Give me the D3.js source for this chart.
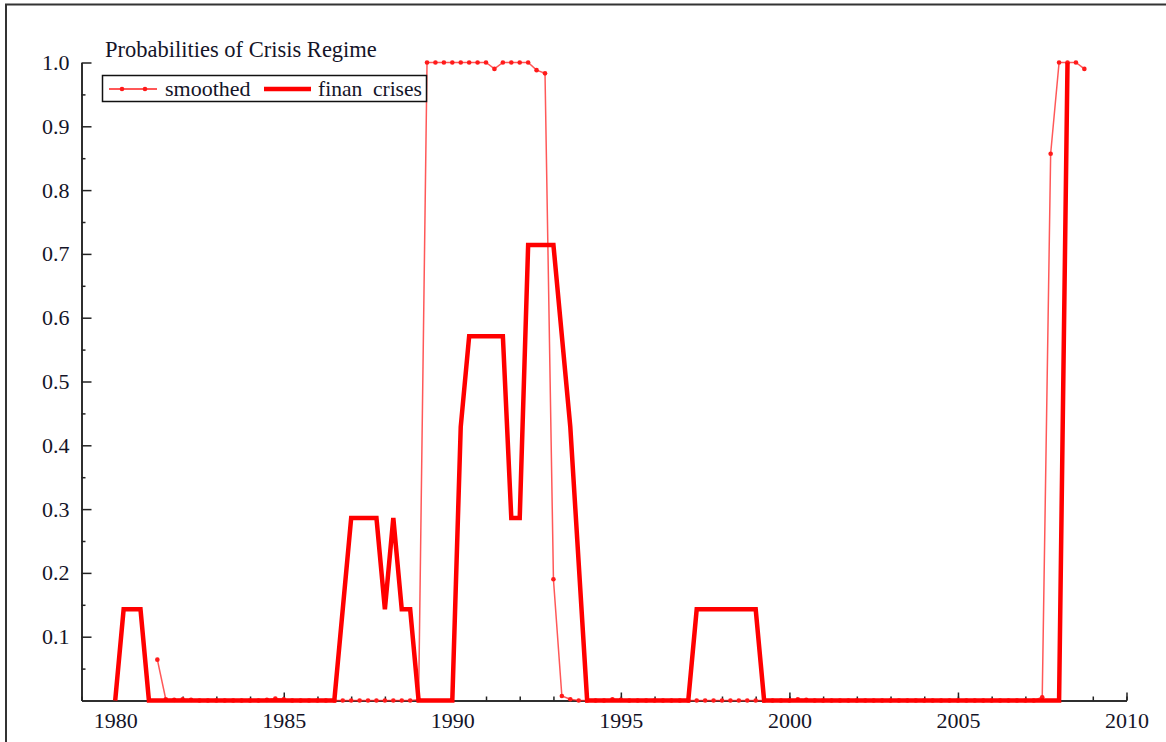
<!DOCTYPE html>
<html lang="en">
<head>
  <meta charset="utf-8">
  <title>Probabilities of Crisis Regime</title>
  <script src="https://cdnjs.cloudflare.com/ajax/libs/d3/7.8.5/d3.min.js"></script>
  <style type="text/css">
	body {
		margin: 0;
		background: #fff;
	}
	svg text {
		font-family: "Liberation Serif", "Times New Roman", serif;
		fill: #141428;
	}
	.axis path, .axis line {
		stroke: #222;
		stroke-width: 1.5;
	}
  </style>
</head>
<body>
<svg id="chart"></svg>
<script>
// smoothed probability, quarterly, first value at 1981.25
var smoothStart = 1981.25;
var smoothed = [
	0.064, 0.002, 0.001,
	0.002, 0.001, 0, 0,              // 1982
	0, 0, 0, 0,                      // 1983
	0, 0, 0.001, 0.003,              // 1984
	0.002, 0, 0, 0,                  // 1985
	0, 0, 0, 0,                      // 1986
	0, 0, 0, 0,                      // 1987
	0, 0, 0, 0,                      // 1988
	0.001, 1, 1, 1,                  // 1989
	1, 1, 1, 1,                      // 1990
	1, 0.99, 1, 1,                   // 1991
	1, 1, 0.988, 0.983,              // 1992
	0.19, 0.007, 0.002, 0,           // 1993
	0, 0, 0, 0.002,                  // 1994
	0.001, 0, 0, 0,                  // 1995
	0, 0, 0, 0,                      // 1996
	0, 0, 0, 0,                      // 1997
	0, 0, 0, 0,                      // 1998
	0, 0, 0, 0,                      // 1999
	0, 0.002, 0.001, 0,              // 2000
	0, 0, 0, 0,                      // 2001
	0, 0, 0, 0,                      // 2002
	0, 0, 0, 0,                      // 2003
	0, 0, 0, 0,                      // 2004
	0, 0, 0, 0,                      // 2005
	0, 0, 0, 0,                      // 2006
	0, 0, 0.005, 0.857,              // 2007
	1, 1, 1, 0.99                    // 2008
];

// share of financial crises
var crisisYears = [1980, 1980.25, 1980.75, 1981, 1986.5, 1987, 1987.75, 1988, 1988.25, 1988.5, 1988.75, 1989,
	1990, 1990.25, 1990.5, 1991.5, 1991.75, 1992, 1992.25, 1993, 1993.5, 1994,
	1997, 1997.25, 1999, 1999.25, 2008, 2008.25];
var crisisValues = [0, 0.143, 0.143, 0, 0, 0.286, 0.286, 0.143, 0.286, 0.143, 0.143, 0,
	0, 0.429, 0.571, 0.571, 0.286, 0.286, 0.714, 0.714, 0.429, 0,
	0, 0.143, 0.143, 0, 0, 1];

var xMajor = [1980, 1985, 1990, 1995, 2000, 2005, 2010];
var xMinor = d3.range(1979, 2011);
var yMajor = [0.1, 0.2, 0.3, 0.4, 0.5, 0.6, 0.7, 0.8, 0.9, 1.0];
var yMinor = [0.05, 0.15, 0.25, 0.35, 0.45, 0.55, 0.65, 0.75, 0.85, 0.95];

var w = 1166, h = 742;

var smoothData = smoothed.map(function(v, i) { return [smoothStart + i * 0.25, v]; });
var crisisData = crisisYears.map(function(d, i) { return [d, crisisValues[i]]; });

var xScale = d3.scaleLinear().domain([1979, 2010]).range([81.5, 1126.5]);
var yScale = d3.scaleLinear().domain([0, 1]).range([700.5, 62.5]);

var svg = d3.select("#chart")
	.attr("width", w)
	.attr("height", h);

//outer frame (top and left)
svg.append("path")
	.attr("d", "M6,742V4.5H1166")
	.attr("fill", "none")
	.attr("stroke", "#333")
	.attr("stroke-width", 2);

//axes
svg.append("g")
	.attr("class", "axis")
	.attr("transform", "translate(0," + yScale(0) + ")")
	.call(d3.axisBottom(xScale).tickValues(xMinor).tickSizeInner(-4).tickSizeOuter(0).tickFormat(""));

svg.append("g")
	.attr("class", "axis")
	.attr("transform", "translate(0," + yScale(0) + ")")
	.call(d3.axisBottom(xScale).tickValues(xMajor).tickSizeInner(-8).tickSizeOuter(0).tickPadding(9).tickFormat(d3.format("d")))
	.call(function(g) { g.selectAll("text").style("font-size", "22px").attr("dy", "0.85em"); });

svg.append("g")
	.attr("class", "axis")
	.attr("transform", "translate(" + xScale(1979) + ",0)")
	.call(d3.axisLeft(yScale).tickValues(yMinor).tickSizeInner(-4).tickSizeOuter(0).tickFormat(""));

svg.append("g")
	.attr("class", "axis")
	.attr("transform", "translate(" + xScale(1979) + ",0)")
	.call(d3.axisLeft(yScale).tickValues(yMajor).tickSizeInner(-10).tickSizeOuter(0).tickPadding(12).tickFormat(d3.format(".1f")))
	.call(function(g) { g.selectAll("text").style("font-size", "22px"); });

svg.selectAll(".axis text").attr("fill", "#141428");
svg.selectAll(".axis .domain").attr("stroke-width", 1.5);

//lines
var line = d3.line()
	.x(function(d) { return xScale(d[0]); })
	.y(function(d) { return yScale(d[1]); });

svg.append("path")
	.datum(smoothData)
	.attr("d", line)
	.attr("fill", "none")
	.attr("stroke", "#ff2020")
	.attr("stroke-opacity", 0.75)
	.attr("stroke-width", 1.5);

svg.selectAll("circle.dot").data(smoothData)
	.enter().append("circle")
	.attr("class", "dot")
	.attr("cx", function(d) { return xScale(d[0]); })
	.attr("cy", function(d) { return yScale(d[1]); })
	.attr("r", 2.3)
	.attr("fill", "#ff1a1a");

svg.append("path")
	.datum(crisisData)
	.attr("d", line)
	.attr("fill", "none")
	.attr("stroke", "#ff0000")
	.attr("stroke-width", 4.5)
	.attr("stroke-linejoin", "miter");

//title
svg.append("text")
	.attr("x", 105)
	.attr("y", 57)
	.style("font-size", "22.5px")
	.text("Probabilities of Crisis Regime");

//legend
var legend = svg.append("g");
legend.append("rect")
	.attr("x", 102.5)
	.attr("y", 75.5)
	.attr("width", 324)
	.attr("height", 26)
	.attr("fill", "#fff")
	.attr("stroke", "#111")
	.attr("stroke-width", 1.5);
legend.append("line")
	.attr("x1", 109).attr("x2", 157).attr("y1", 89).attr("y2", 89)
	.attr("stroke", "#ff2020").attr("stroke-width", 1.5);
legend.selectAll("circle").data([122, 145])
	.enter().append("circle")
	.attr("cx", function(d) { return d; })
	.attr("cy", 89)
	.attr("r", 2.3)
	.attr("fill", "#ff1a1a");
legend.append("text")
	.attr("x", 165).attr("y", 96)
	.style("font-size", "22px")
	.text("smoothed");
legend.append("line")
	.attr("x1", 264).attr("x2", 311).attr("y1", 89).attr("y2", 89)
	.attr("stroke", "#ff0000").attr("stroke-width", 4.5);
legend.append("text")
	.attr("x", 318).attr("y", 96)
	.style("font-size", "21.5px")
	.style("white-space", "pre")
	.text("finan  crises");
</script>
</body>
</html>
